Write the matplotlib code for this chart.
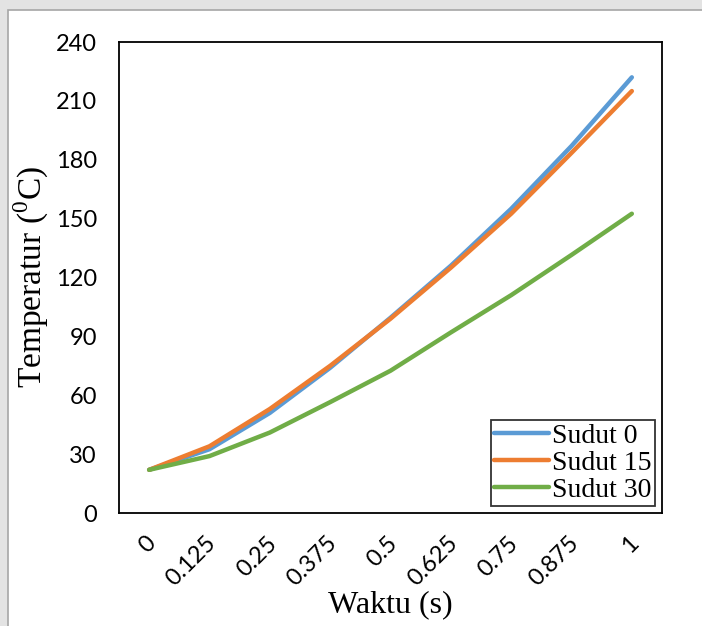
import matplotlib
matplotlib.use('Agg')
import matplotlib.pyplot as plt
import matplotlib.transforms as mtrans
from matplotlib.patches import Rectangle

# data
waktu = ['0', '0.125', '0.25', '0.375', '0.5', '0.625', '0.75', '0.875', '1']
sudut_0 = [22, 32.5, 51, 74, 99.5, 126, 155, 187, 222]
sudut_15 = [22, 34, 53, 75, 99, 125, 152.5, 183.5, 215]
sudut_30 = [22, 29, 41, 56.5, 72.5, 92, 111, 131.5, 152.5]
y_ticks = [0, 30, 60, 90, 120, 150, 180, 210, 240]

serif = 'Liberation Serif'
plt.rcParams['mathtext.fontset'] = 'custom'
plt.rcParams['mathtext.rm'] = serif

W, H = 702, 626
fig = plt.figure(figsize=(W / 100, H / 100), dpi=100, facecolor='#e3e3e3')

# white chart area with a thin grey border, like the pasted Excel chart
fig.patches.append(Rectangle((8 / W, -0.01), 1.0, (H - 10) / H + 0.01,
                             transform=fig.transFigure, facecolor='white',
                             edgecolor='#a6a6a6', linewidth=1.2, zorder=-10))

ax = fig.add_axes([119 / W, (H - 513) / H, (662 - 119) / W, (513 - 42) / H])
x = range(len(waktu))

ax.plot(x, sudut_0, color='#5B9BD5', lw=3.2, label='Sudut 0', solid_capstyle='round')
ax.plot(x, sudut_15, color='#ED7D31', lw=3.2, label='Sudut 15', solid_capstyle='round')
ax.plot(x, sudut_30, color='#70AD47', lw=3.2, label='Sudut 30', solid_capstyle='round')

ax.set_xlim(-0.5, len(waktu) - 0.5)
ax.set_ylim(0, 240)
ax.set_yticks(y_ticks)
ax.set_xticks(list(x))
ax.set_xticklabels(waktu, rotation=45, ha='right', va='top', rotation_mode='anchor')
ax.tick_params(length=0, labelsize=17)
ax.tick_params(axis='y', pad=16)
ax.tick_params(axis='x', pad=14)
shift = mtrans.ScaledTranslation(-4 / 100, 0, fig.dpi_scale_trans)
for lab in ax.get_xticklabels():
    lab.set_fontfamily('Lato')
    lab.set_transform(lab.get_transform() + shift)
for lab in ax.get_yticklabels():
    lab.set_fontfamily('Lato')

for s in ax.spines.values():
    s.set_linewidth(1.3)
    s.set_color('black')

ax.set_ylabel('Temperatur ($^{0}$C)', fontsize=24, fontfamily=serif)
ax.set_xlabel('Waktu (s)', fontsize=23, fontfamily=serif)
ax.yaxis.set_label_coords(-0.126, 0.5)
ax.xaxis.set_label_coords(0.5, -0.163)

leg = ax.legend(loc='lower right', prop={'family': serif, 'size': 20},
                frameon=True, fancybox=False, edgecolor='black',
                handlelength=2.0, handletextpad=0.1, borderpad=0.12,
                labelspacing=0.05, borderaxespad=0.25)
leg.get_frame().set_linewidth(1.3)

fig.savefig('out.png', dpi=100, facecolor=fig.get_facecolor())
